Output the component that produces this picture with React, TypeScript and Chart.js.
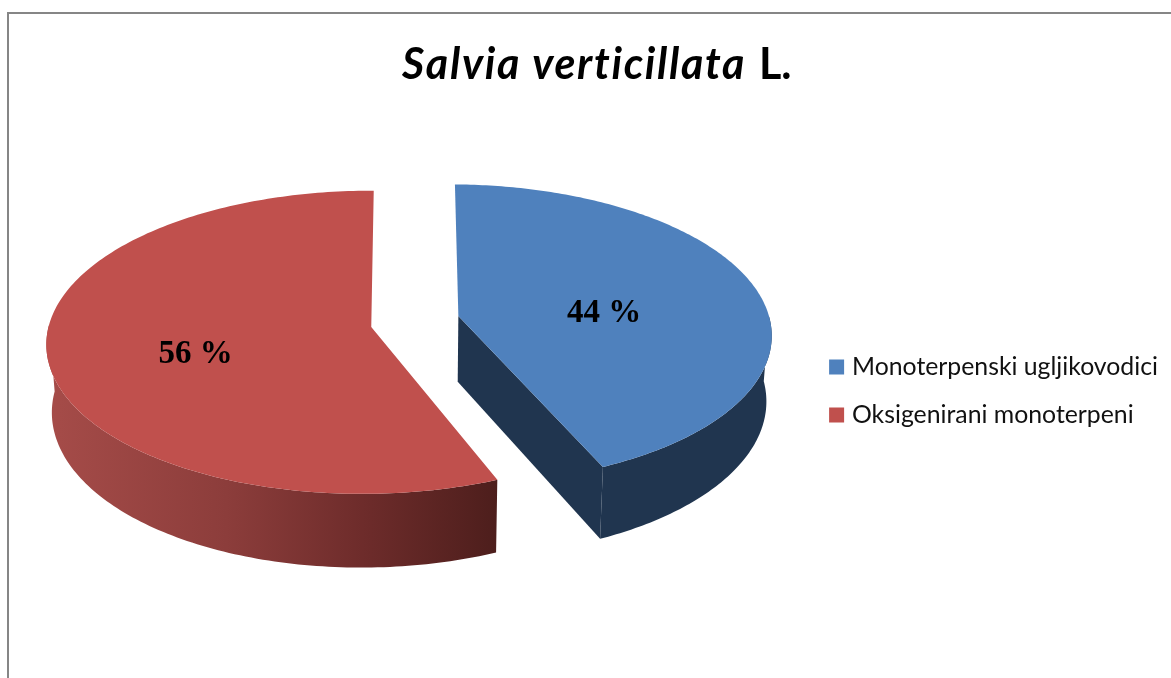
import React, { useEffect, useRef } from "react";
import { Chart, registerables } from "chart.js";

Chart.register(...registerables);

const categories = ["Monoterpenski ugljikovodici", "Oksigenirani monoterpeni"];
const shares = [44, 56];
const shareLabels = ["44 %", "56 %"];
const topColors = ["#4f81bd", "#c0504d"];
const wallStops: [number, string][][] = [
  [[0, "#20354f"], [1, "#20354f"]],
  [[0, "#a64c49"], [0.4, "#8c3d3b"], [0.7, "#6e2c2b"], [1, "#4d1e1c"]],
];

const VIEW = { vx: 415, cy: 323, rx: 317, ry: 149, p: 0.1, q: 0.012, explode: 0.14, depth: 66, shrink: 0.985 };
const LABEL_RADIUS = [0.48, 0.55];
const LABEL_DROP = [8, 11];
const APEX_LIFT = [3, 0];
const RIM_TRIM_DEG = [[0.4, -2.1], [0, 0]];

function project(theta: number, r: number, mid: number) {
  const X = r * Math.sin(theta) + VIEW.explode * Math.sin(mid);
  const Z = r * Math.cos(theta) + VIEW.explode * Math.cos(mid);
  const w = 1 + VIEW.p * Z + VIEW.q * X;
  return { x: VIEW.vx + (VIEW.rx * X) / w, y: VIEW.cy - (VIEW.ry * Z) / w, w };
}
const lower = (pt: { x: number; y: number; w: number }) => ({
  x: VIEW.vx + (pt.x - VIEW.vx) * VIEW.shrink,
  y: pt.y + VIEW.depth / pt.w,
});

const pie3d = {
  id: "pie3d",
  beforeDatasetDraw(chart: any) {
    const ctx = chart.ctx as CanvasRenderingContext2D;
    const arcs = chart.getDatasetMeta(0).data as any[];
    const order = [1, 0];
    for (const i of order) {
      const a = arcs[i];
      const base0 = a.startAngle + Math.PI / 2;
      const base1 = a.endAngle + Math.PI / 2;
      const mid = (base0 + base1) / 2;
      const start = base0 + (RIM_TRIM_DEG[i][0] * Math.PI) / 180;
      const end = base1 + (RIM_TRIM_DEG[i][1] * Math.PI) / 180;
      const apex = project(0, 0, mid);
      apex.y -= APEX_LIFT[i];
      const thetas: number[] = [];
      const rim: ReturnType<typeof project>[] = [];
      const steps = 200;
      for (let s = 0; s <= steps; s++) {
        const t = start + ((end - start) * s) / steps;
        thetas.push(t);
        rim.push(project(t, 1, mid));
      }
      const apexB = lower(apex);
      const first = rim[0];
      const last = rim[rim.length - 1];

      ctx.save();
      // cut faces, only those turned towards the viewer
      ctx.fillStyle = wallStops[i][0][1];
      const visible = [];
      if (first.x - apex.x < -20) visible.push(first);
      if (last.x - apex.x > 20) visible.push(last);
      for (const edge of visible) {
        const b = lower(edge);
        ctx.beginPath();
        ctx.moveTo(apex.x, apex.y);
        ctx.lineTo(edge.x, edge.y);
        ctx.lineTo(b.x, b.y);
        ctx.lineTo(apexB.x, apexB.y);
        ctx.closePath();
        ctx.fill();
      }
      // outer wall: only the part of the rim on the near side
      const front = rim.filter((_, k) => Math.cos(thetas[k]) < 0.02);
      const xs = rim.map((p) => p.x);
      const g = ctx.createLinearGradient(Math.min(...xs), 0, Math.max(...xs), 0);
      wallStops[i].forEach(([o, c]) => g.addColorStop(o, c));
      ctx.fillStyle = g;
      ctx.beginPath();
      front.forEach((p, k) => (k ? ctx.lineTo(p.x, p.y) : ctx.moveTo(p.x, p.y)));
      [...front].reverse().forEach((p) => {
        const b = lower(p);
        ctx.lineTo(b.x, b.y);
      });
      ctx.closePath();
      ctx.fill();
      // top face
      ctx.fillStyle = a.options.backgroundColor;
      ctx.beginPath();
      ctx.moveTo(apex.x, apex.y);
      rim.forEach((p) => ctx.lineTo(p.x, p.y));
      ctx.closePath();
      ctx.fill();
      ctx.restore();
    }
    // value labels
    ctx.save();
    ctx.fillStyle = "#000";
    ctx.font = "bold 33px 'Liberation Serif'";
    ctx.textAlign = "center";
    ctx.textBaseline = "middle";
    arcs.forEach((a, i) => {
      const mid = (a.startAngle + a.endAngle) / 2 + Math.PI / 2;
      const p = project(mid, LABEL_RADIUS[i], mid);
      ctx.fillText(shareLabels[i], p.x, p.y + LABEL_DROP[i]);
    });
    ctx.restore();
    return false;
  },
  beforeDraw(chart: any) {
    const ctx = chart.ctx as CanvasRenderingContext2D;
    ctx.save();
    ctx.strokeStyle = "#868686";
    ctx.lineWidth = 2;
    ctx.beginPath();
    ctx.moveTo(8, 678);
    ctx.lineTo(8, 13);
    ctx.lineTo(1171, 13);
    ctx.stroke();
    // title
    ctx.fillStyle = "#000";
    ctx.textBaseline = "alphabetic";
    ctx.textAlign = "left";
    ctx.font = "italic bold 43px Lato";
    (ctx as any).letterSpacing = "1.7px";
    ctx.fillText("Salvia verticillata", 402, 79);
    ctx.font = "bold 43px Lato";
    (ctx as any).letterSpacing = "0px";
    ctx.fillText("L.", 759, 79);
    ctx.restore();
  },
};

export default function App() {
  const ref = useRef<HTMLCanvasElement>(null);
  useEffect(() => {
    document.body.style.margin = "0";
    const chart = new Chart(ref.current!, {
      type: "pie",
      data: {
        labels: categories,
        datasets: [{ data: shares, backgroundColor: topColors, borderWidth: 0 }],
      },
      options: {
        responsive: false,
        animation: false,
        rotation: -0.3,
        layout: { padding: { top: 104, right: 3 } },
        plugins: {
          tooltip: { enabled: false },
          title: { display: false },
          legend: {
            position: "right",
            align: "center",
            labels: {
              usePointStyle: true,
              pointStyle: "rect",
              boxWidth: 6,
              boxHeight: 15,
              padding: 23,
              color: "#111",
              font: { family: "Lato", size: 24.8 },
            },
          },
        },
      },
      plugins: [pie3d],
    } as any);
    return () => chart.destroy();
  }, []);
  return <canvas ref={ref} width={1171} height={678} style={{ display: "block" }} />;
}
